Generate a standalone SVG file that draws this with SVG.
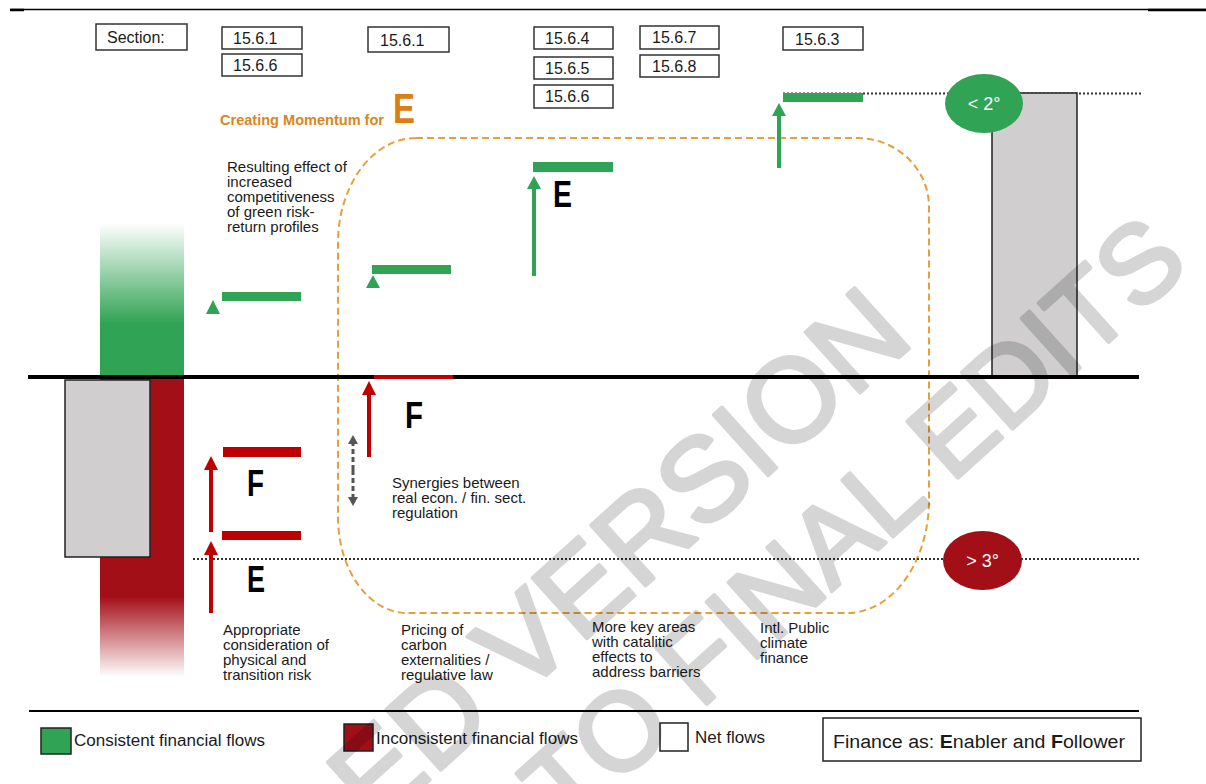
<svg xmlns="http://www.w3.org/2000/svg" width="1206" height="784" viewBox="0 0 1206 784">
<defs>
<style>
text{font-family:"Liberation Sans",Arial,sans-serif;fill:#1a1a1a}
.sec rect{fill:#fff;stroke:#333;stroke-width:1.5}
.sec text{font-size:16px}
.lbl{font-size:15px}
.big{font-size:36px;font-weight:bold;fill:#000}
.g{fill:#31A354}
.r{fill:#C00000}
.dot{stroke:#333;stroke-width:2;stroke-dasharray:2 2;fill:none}
.leg{font-size:16px}
.wm{fill:#000;stroke:#000;stroke-width:4;stroke-linejoin:round}
</style>
<linearGradient id="gFade" x1="0" y1="0" x2="0" y2="1">
<stop offset="0" stop-color="#31A354" stop-opacity="0"/>
<stop offset="0.65" stop-color="#31A354" stop-opacity="1"/>
<stop offset="1" stop-color="#31A354" stop-opacity="1"/>
</linearGradient>
<linearGradient id="rFade" x1="0" y1="0" x2="0" y2="1">
<stop offset="0" stop-color="#A30F17" stop-opacity="1"/>
<stop offset="0.73" stop-color="#A30F17" stop-opacity="1"/>
<stop offset="1" stop-color="#A30F17" stop-opacity="0"/>
</linearGradient>
<marker id="hG" markerUnits="userSpaceOnUse" markerWidth="14" markerHeight="14" refX="9" refY="7" orient="auto"><path d="M0,0 L13,7 L0,14 z" fill="#31A354"/></marker>
<marker id="hR" markerUnits="userSpaceOnUse" markerWidth="14" markerHeight="14" refX="9" refY="7" orient="auto"><path d="M0,0 L14,7 L0,14 z" fill="#C00000"/></marker>
<marker id="hK" markerUnits="userSpaceOnUse" markerWidth="10" markerHeight="10" refX="6" refY="5" orient="auto"><path d="M0,0 L9,5 L0,10 z" fill="#555"/></marker>
</defs>

<rect width="1206" height="784" fill="#fff"/>

<!-- frame lines -->
<g id="frame">
<line x1="10" y1="9.5" x2="1206" y2="9.5" stroke="#000" stroke-width="1.3"/>
<line x1="10" y1="10" x2="24" y2="10" stroke="#000" stroke-width="2.5"/>
<line x1="1148" y1="10" x2="1206" y2="10" stroke="#000" stroke-width="2.5"/>
<line x1="29" y1="711" x2="1139" y2="711" stroke="#000" stroke-width="2"/>
</g>

<!-- section boxes -->
<g id="sec-label" class="sec"><rect x="96" y="24" width="91" height="26"/><text x="107" y="43">Section:</text></g>
<g id="sec-1561a" class="sec"><rect x="222" y="27" width="80" height="22"/><text x="233" y="44">15.6.1</text></g>
<g id="sec-1566a" class="sec"><rect x="222" y="54" width="80" height="22"/><text x="233" y="71">15.6.6</text></g>
<g id="sec-1561b" class="sec"><rect x="368" y="27" width="81" height="25"/><text x="380" y="46">15.6.1</text></g>
<g id="sec-1564" class="sec"><rect x="534" y="27" width="79" height="22"/><text x="545" y="44">15.6.4</text></g>
<g id="sec-1565" class="sec"><rect x="534" y="57" width="79" height="22"/><text x="545" y="74">15.6.5</text></g>
<g id="sec-1566b" class="sec"><rect x="534" y="85" width="79" height="23"/><text x="545" y="102">15.6.6</text></g>
<g id="sec-1567" class="sec"><rect x="640" y="26" width="79" height="23"/><text x="652" y="43">15.6.7</text></g>
<g id="sec-1568" class="sec"><rect x="640" y="55" width="79" height="22"/><text x="652" y="72">15.6.8</text></g>
<g id="sec-1563" class="sec"><rect x="783" y="27" width="80" height="23"/><text x="795" y="45">15.6.3</text></g>

<!-- momentum title -->
<g id="momentum">
<text x="220" y="125" font-size="14.5" font-weight="bold" style="fill:#D8861E" textLength="164" lengthAdjust="spacingAndGlyphs">Creating Momentum for</text>
<text x="393" y="123" font-size="42" font-weight="bold" style="fill:#DA8012" textLength="22" lengthAdjust="spacingAndGlyphs">E</text>
</g>

<!-- dashed momentum frame -->
<g id="momentum-frame">
<path d="M416,138 H857 A72,69 0 0 1 929,207 V500 A82,113 0 0 1 847,613 H407 A69,96 0 0 1 338,517 V243 A78,105 0 0 1 416,138 Z" fill="none" stroke="#E5A03A" stroke-width="2" stroke-dasharray="7 4"/>
</g>

<!-- threshold dotted lines -->
<g id="thresholds">
<line class="dot" x1="783" y1="93.5" x2="1143" y2="93.5"/>
<line class="dot" x1="193" y1="559" x2="1140" y2="559"/>
</g>

<!-- left flow bars -->
<g id="left-flows">
<rect x="100" y="223" width="84" height="154" fill="url(#gFade)"/>
<rect x="100" y="379" width="84" height="298" fill="url(#rFade)"/>
<rect x="65" y="380" width="85" height="177" fill="#D0CECF" stroke="#222" stroke-width="1.5"/>
</g>

<!-- right net bar -->
<g id="right-net">
<rect x="992" y="93" width="85" height="284" fill="#D0CECF" stroke="#222" stroke-width="1.5"/>
</g>

<!-- axis -->
<g id="axis">
<line x1="28" y1="377" x2="1139" y2="377" stroke="#000" stroke-width="4"/>
<line x1="374" y1="377" x2="453" y2="377" stroke="#C00000" stroke-width="4"/>
</g>

<!-- level bars -->
<g id="step-green-1"><rect class="g" x="222" y="292" width="79" height="9"/></g>
<g id="step-green-2"><rect class="g" x="372" y="265" width="79" height="9"/></g>
<g id="step-green-3"><rect class="g" x="533" y="162" width="80" height="10"/></g>
<g id="step-green-4"><rect class="g" x="783" y="93" width="80" height="9"/></g>
<g id="step-red-1"><rect class="r" x="223" y="447" width="78" height="10"/></g>
<g id="step-red-2"><rect class="r" x="222" y="531" width="79" height="9"/></g>

<!-- connectors -->
<g id="connectors">
<polygon class="g" points="213,300 206,314 220,314"/>
<polygon class="g" points="373,275 366,288 380,288"/>
<line x1="534" y1="276" x2="534" y2="180" stroke="#31A354" stroke-width="4" marker-end="url(#hG)"/>
<line x1="779" y1="168" x2="779" y2="107" stroke="#31A354" stroke-width="4" marker-end="url(#hG)"/>
<line x1="211" y1="532" x2="211" y2="461" stroke="#C00000" stroke-width="4" marker-end="url(#hR)"/>
<line x1="211" y1="613" x2="211" y2="546" stroke="#C00000" stroke-width="4" marker-end="url(#hR)"/>
<line x1="369" y1="457" x2="369" y2="386" stroke="#C00000" stroke-width="4" marker-end="url(#hR)"/>
<line x1="353" y1="470" x2="353" y2="438" stroke="#555" stroke-width="3" stroke-dasharray="5 3" marker-end="url(#hK)"/>
<line x1="353" y1="470" x2="353" y2="503" stroke="#555" stroke-width="3" stroke-dasharray="5 3" marker-end="url(#hK)"/>
</g>

<!-- E / F letters -->
<g id="letter-E-top"><text class="big" x="553" y="207" textLength="19" lengthAdjust="spacingAndGlyphs">E</text></g>
<g id="letter-F-left"><text class="big" x="247" y="496" textLength="17" lengthAdjust="spacingAndGlyphs">F</text></g>
<g id="letter-E-left"><text class="big" x="247" y="592" textLength="18" lengthAdjust="spacingAndGlyphs">E</text></g>
<g id="letter-F-mid"><text class="big" x="405" y="428" textLength="18" lengthAdjust="spacingAndGlyphs">F</text></g>

<!-- temperature markers -->
<g id="lt2"><ellipse cx="984" cy="103.5" rx="39" ry="29.5" fill="#31A354"/><text x="984" y="110" font-size="18" text-anchor="middle" style="fill:#fff">&lt; 2°</text></g>
<g id="gt3"><ellipse cx="982.5" cy="560.5" rx="39.5" ry="29.5" fill="#A30F17"/><text x="982.5" y="567" font-size="18" text-anchor="middle" style="fill:#fff">&gt; 3°</text></g>

<!-- labels -->
<g id="lbl-resulting" class="lbl"><text x="227" y="172">Resulting effect of</text><text x="227" y="187">increased</text><text x="227" y="202">competitiveness</text><text x="227" y="217">of green risk-</text><text x="227" y="232">return profiles</text></g>
<g id="lbl-synergies" class="lbl"><text x="392" y="488">Synergies between</text><text x="392" y="503">real econ. / fin. sect.</text><text x="392" y="518">regulation</text></g>
<g id="lbl-appropriate" class="lbl"><text x="223" y="635">Appropriate</text><text x="223" y="650">consideration of</text><text x="223" y="665">physical and</text><text x="223" y="680">transition risk</text></g>
<g id="lbl-pricing" class="lbl"><text x="401" y="635">Pricing of</text><text x="401" y="650">carbon</text><text x="401" y="665">externalities /</text><text x="401" y="680">regulative law</text></g>
<g id="lbl-keyareas" class="lbl"><text x="592" y="632">More key areas</text><text x="592" y="647">with catalitic</text><text x="592" y="662">effects to</text><text x="592" y="677">address barriers</text></g>
<g id="lbl-intl" class="lbl"><text x="760" y="633">Intl. Public</text><text x="760" y="648">climate</text><text x="760" y="663">finance</text></g>

<!-- legend -->
<g id="legend-consistent"><rect x="41" y="728" width="30" height="26" fill="#31A354" stroke="#222" stroke-width="1.5"/><text class="leg" x="74" y="746" textLength="191" lengthAdjust="spacingAndGlyphs">Consistent financial flows</text></g>
<g id="legend-inconsistent"><rect x="344" y="724" width="29" height="27" fill="#A30F17" stroke="#222" stroke-width="1.5"/><text class="leg" x="376" y="744" textLength="202" lengthAdjust="spacingAndGlyphs">Inconsistent financial flows</text></g>
<g id="legend-net"><rect x="660" y="723" width="28" height="28" fill="#fff" stroke="#222" stroke-width="1.5"/><text class="leg" x="695" y="743" textLength="70" lengthAdjust="spacingAndGlyphs">Net flows</text></g>
<g id="legend-finance"><rect x="823" y="718" width="318" height="43" fill="#fff" stroke="#222" stroke-width="1.5"/><text x="833" y="748" font-size="18" textLength="292" lengthAdjust="spacingAndGlyphs">Finance as: <tspan font-weight="bold">E</tspan>nabler and <tspan font-weight="bold">F</tspan>ollower</text></g>

<!-- watermark -->
<g id="watermark" opacity="0.16">
<text class="wm" transform="translate(916,342) rotate(-42)" text-anchor="end" font-size="118">ED VERSION</text>
<text class="wm" transform="translate(1192,267) rotate(-42)" text-anchor="end" font-size="110">TO FINAL EDITS</text>
</g>
</svg>
